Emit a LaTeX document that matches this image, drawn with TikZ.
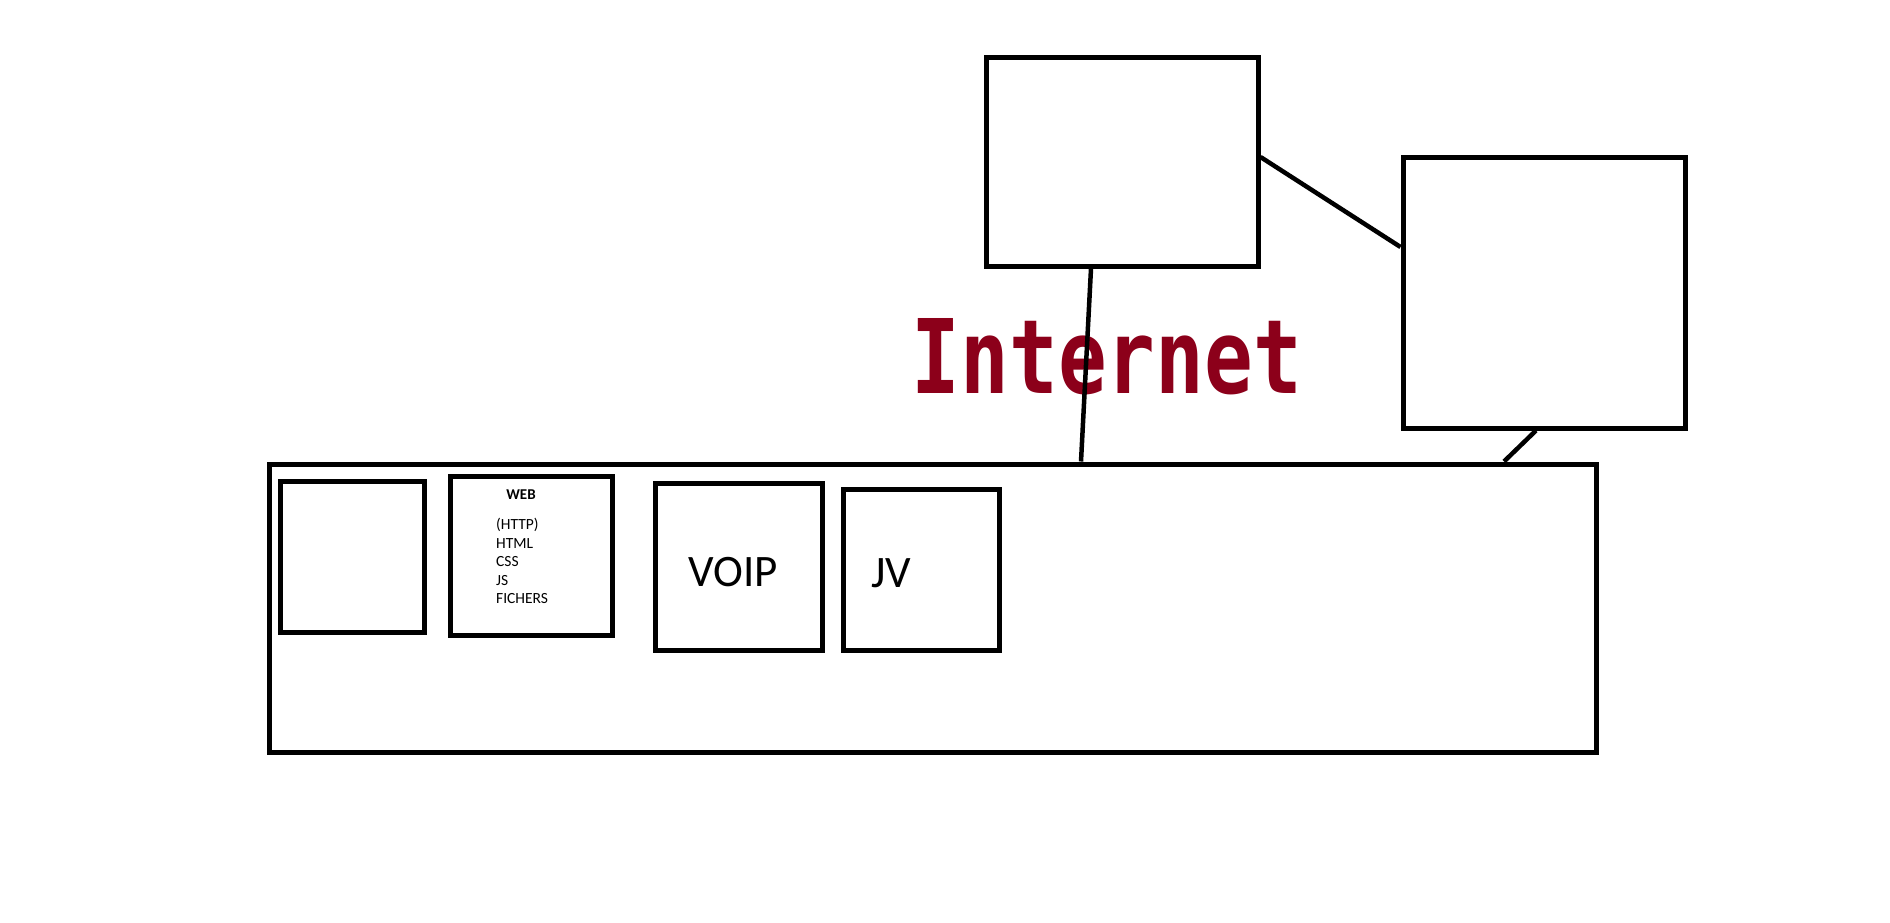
\documentclass[tikz,border=0pt]{standalone}
\usepackage{fontspec}
\setmainfont{Carlito}
\newfontfamily\internetfont{DejaVu Sans Mono}
\usepackage{tikz}
\usepackage{xcolor}
\usetikzlibrary{positioning}
\definecolor{rougenet}{RGB}{140,0,26}
\tikzstyle{boite} = [draw=black, line width=5pt, inner sep=0pt]
\tikzstyle{lien} = [line width=4.5pt]
\tikzstyle{grand} = [font=\fontsize{45}{54}\selectfont, inner sep=0pt]

\begin{document}
\begin{tikzpicture}[x=1pt, y=-1pt]
        \useasboundingbox (0,0) rectangle (1890,923);
        % boites du haut
        \node[boite, minimum width=272pt, minimum height=208pt] (serveur) at (1122,162) {};
        \node[boite, minimum width=282pt, minimum height=270pt] (routeur) at (1544,293) {};
        % boite principale et services
        \node[boite, minimum width=1327pt, minimum height=288pt] (poste) at (932.5,608) {};
        \node[boite, minimum width=144pt, minimum height=151pt] (vide) at (352,556.5) {};
        \node[boite, minimum width=162pt, minimum height=159pt] (web) at (531,555.5) {};
        \node[boite, minimum width=167pt, minimum height=167pt] (voip) at (738.5,566.5) {};
        \node[boite, minimum width=156pt, minimum height=161pt] (jv) at (921,569.5) {};
        \node[inner sep=0pt, font=\fontsize{15}{18.5}\selectfont\bfseries] (webtitre) at (521,495) {WEB};
        \node[inner sep=0pt, anchor=west, align=left, font=\fontsize{15.5}{18.5}\selectfont] (weblist) at (496,561) {(HTTP)\\HTML\\CSS\\JS\\FICHERS};
        \node[grand] (voiptxt) at (733.5,572) {VOIP};
        \node[grand] (jvtxt) at (891,573) {JV};
        \node[inner sep=0pt, text=rougenet] (internet) at (1107,356.5) {\resizebox{390pt}{75pt}{\internetfont\bfseries Internet}};
        % liaisons
        \draw[lien] (serveur.south -| 1091,0) -- (poste.north -| 1081,0);
        \draw[lien] (serveur.east |- 0,157) -- (routeur.west |- 0,247);
        \draw[lien] (routeur.south -| 1536,0) -- (poste.north -| 1504,0);
    \end{tikzpicture}
\end{document}
